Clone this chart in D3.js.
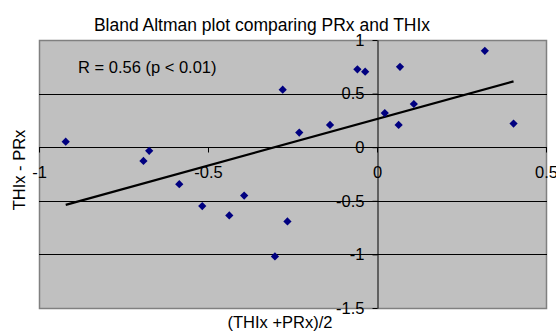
<!DOCTYPE html>
<html>
<head>
<meta charset="utf-8">
<script src="https://cdn.jsdelivr.net/npm/d3@7/dist/d3.min.js"></script>
<style>
  html, body { margin: 0; padding: 0; background: #fff; }
  svg { display: block; font-family: "Liberation Sans", Arial, sans-serif; }
</style>
</head>
<body>
<svg id="chart" width="556" height="331"></svg>
<script>
// Mean of the two indices (x) and their difference (y), one entry per patient
const meanValues = [-0.921, -0.691, -0.674, -0.585, -0.517, -0.437, -0.393, -0.302, -0.279, -0.265,
                    -0.230, -0.139, -0.058, -0.035, 0.023, 0.064, 0.068, 0.109, 0.319, 0.404];
const diffValues = [0.052, -0.128, -0.034, -0.345, -0.549, -0.637, -0.451, -1.019, 0.536, -0.693,
                    0.136, 0.208, 0.726, 0.704, 0.319, 0.208, 0.750, 0.403, 0.899, 0.220];
const xTicks = [-1, -0.5, 0, 0.5];
const yTicks = [1, 0.5, 0, -0.5, -1, -1.5];
const gridValues = [0.5, 0, -0.5, -1];
const titleText = "Bland Altman plot comparing PRx and THIx";
const xTitle = "(THIx +PRx)/2";
const yTitle = "THIx - PRx";
const statText = "R = 0.56 (p < 0.01)";

const svg = d3.select("#chart");
const plot = { left: 39, right: 546, top: 40, bottom: 308 };

const x = d3.scaleLinear().domain([-1, 0.5]).range([plot.left, plot.right]);
const y = d3.scaleLinear().domain([-1.5, 1]).range([plot.bottom, plot.top]);

// Plot area
svg.append("rect")
  .attr("x", plot.left + 0.5).attr("y", plot.top + 0.5)
  .attr("width", plot.right - plot.left).attr("height", plot.bottom - plot.top)
  .attr("fill", "#c0c0c0").attr("stroke", "#808080").attr("stroke-width", 1.5);

// Horizontal gridlines
svg.append("g").selectAll("line").data(gridValues).join("line")
  .attr("x1", plot.left).attr("x2", plot.right + 1)
  .attr("y1", d => Math.round(y(d)) + 0.5).attr("y2", d => Math.round(y(d)) + 0.5)
  .attr("stroke", "#000").attr("stroke-width", 1);

const fontSize = 16.5;
const fmt = d => String(d);

// Vertical axis crossing at x = 0
const yAxis = d3.axisLeft(y).tickValues(yTicks).tickFormat(fmt)
  .tickSize(5).tickPadding(8).tickSizeOuter(0);
svg.append("g")
  .attr("transform", `translate(${Math.round(x(0)) + 0.5},0)`)
  .call(yAxis)
  .call(g => g.selectAll("text").attr("font-size", fontSize).attr("fill", "#000")
    .attr("font-family", "Liberation Sans, Arial, sans-serif"))
  .call(g => g.selectAll("line, path").attr("stroke", "#000"));

// Horizontal axis crossing at y = 0
const xAxis = d3.axisBottom(x).tickValues(xTicks).tickFormat(fmt)
  .tickSize(5).tickPadding(14).tickSizeOuter(0);
svg.append("g")
  .attr("transform", `translate(0,${Math.round(y(0)) + 0.5})`)
  .call(xAxis)
  .call(g => g.select(".domain").remove())
  .call(g => g.selectAll("text").attr("font-size", fontSize).attr("fill", "#000")
    .attr("font-family", "Liberation Sans, Arial, sans-serif"))
  .call(g => g.selectAll("line").attr("stroke", "#000"));

// Least-squares trend line across the range of the data
const mx = d3.mean(meanValues), my = d3.mean(diffValues);
let sxy = 0, sxx = 0;
meanValues.forEach((v, i) => { sxy += (v - mx) * (diffValues[i] - my); sxx += (v - mx) * (v - mx); });
const slope = sxy / sxx, intercept = my - slope * mx;
const [xmin, xmax] = d3.extent(meanValues);
svg.append("line")
  .attr("x1", x(xmin)).attr("y1", y(intercept + slope * xmin))
  .attr("x2", x(xmax)).attr("y2", y(intercept + slope * xmax))
  .attr("stroke", "#000").attr("stroke-width", 2.2);

// Data points as diamonds
const diamond = d3.symbol().type(d3.symbolSquare).size(34);
svg.append("g").selectAll("path").data(meanValues).join("path")
  .attr("d", diamond)
  .attr("transform", (d, i) => `translate(${x(d)},${y(diffValues[i])}) rotate(45)`)
  .attr("fill", "#000080");

// Correlation annotation
svg.append("text")
  .attr("x", 78).attr("y", 73)
  .attr("font-size", fontSize).attr("fill", "#000")
  .text(statText);

// Title and axis titles
svg.append("text")
  .attr("x", 262).attr("y", 31).attr("text-anchor", "middle")
  .attr("font-size", 17.5).attr("fill", "#000")
  .text(titleText);

svg.append("text")
  .attr("x", 280).attr("y", 328).attr("text-anchor", "middle")
  .attr("font-size", fontSize).attr("fill", "#000")
  .text(xTitle);

svg.append("text")
  .attr("transform", "translate(25,170) rotate(-90)")
  .attr("text-anchor", "middle")
  .attr("font-size", fontSize).attr("fill", "#000")
  .text(yTitle);
</script>
</body>
</html>
